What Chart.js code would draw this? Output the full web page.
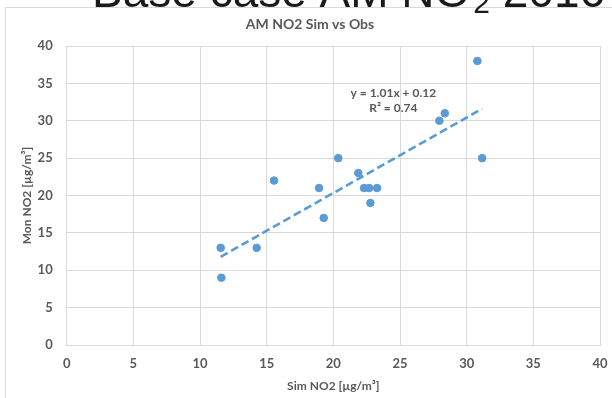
<!DOCTYPE html>
<html>
<head>
<meta charset="utf-8">
<script src="https://cdn.jsdelivr.net/npm/chart.js@4.4.0/dist/chart.umd.min.js"></script>
<style>
  html, body { margin: 0; padding: 0; background: #ffffff; overflow: hidden; }
  #wrap { position: relative; width: 612px; height: 398px; overflow: hidden; }
  #c { position: absolute; left: 0; top: 0; }
</style>
</head>
<body>
<div id="wrap">
  <canvas id="c" width="612" height="398"></canvas>
</div>
<script>
// ---- data ----
const simNO2 = [11.55, 11.6, 14.25, 15.55, 18.93, 19.28, 20.37, 21.87, 22.3, 22.68, 22.78, 23.28, 27.95, 28.36, 30.8, 31.16];
const monNO2 = [13, 9, 13, 22, 21, 17, 25, 23, 21, 21, 19, 21, 30, 31, 38, 25];
const trendX = [11.55, 31.16];
const trendY = [11.8, 31.6];
const axisTicks = [0, 5, 10, 15, 20, 25, 30, 35, 40];
const pageTitle = ["Base case AM NO", "2", " 2016"];
const chartTitle = "AM NO2 Sim vs Obs";
const xTitle = "Sim NO2 [\u00b5g/m\u00b3]";
const yTitle = "Mon NO2 [\u00b5g/m\u00b3]";
const trendLabel = ["y = 1.01x + 0.12", "R\u00b2 = 0.74"];
const trendLabelPos = { x: 24.5, y: [33.7, 31.7] };

const points = simNO2.map((x, i) => ({ x: x, y: monNO2[i] }));
const trend = trendX.map((x, i) => ({ x: x, y: trendY[i] }));

const FONT = "Lato, 'Open Sans', sans-serif";
const BIG = "'Liberation Sans', Arial, sans-serif";
const TXT = "#595959";

const overlay = {
  id: 'overlay',
  beforeDraw(chart) {
    const ctx = chart.ctx;
    ctx.save();
    ctx.strokeStyle = '#d9d9d9';
    ctx.lineWidth = 1;
    ctx.beginPath();
    ctx.moveTo(5.5, chart.height + 5);
    ctx.lineTo(5.5, 7.5);
    ctx.lineTo(chart.width + 5, 7.5);
    ctx.stroke();
    ctx.restore();
  },
  afterDraw(chart) {
    const ctx = chart.ctx;
    const xs = chart.scales.x, ys = chart.scales.y;
    ctx.save();
    ctx.fillStyle = TXT;
    ctx.textAlign = 'center';
    ctx.textBaseline = 'middle';
    ctx.font = "bold 14px " + FONT;
    ctx.fillText(chartTitle, 310, 24);
    ctx.font = "bold 12px " + FONT;
    const px = xs.getPixelForValue(trendLabelPos.x);
    ctx.fillText(trendLabel[0], px, ys.getPixelForValue(trendLabelPos.y[0]));
    ctx.fillText(trendLabel[1], px, ys.getPixelForValue(trendLabelPos.y[1]));
    // page heading, mostly cut off above the window
    ctx.fillStyle = '#1a1a1a';
    ctx.textAlign = 'left';
    ctx.textBaseline = 'alphabetic';
    let x = 92;
    ctx.font = "46px " + BIG;
    ctx.fillText(pageTitle[0], x, 7);
    x += ctx.measureText(pageTitle[0]).width + 3;
    ctx.font = "30px " + BIG;
    ctx.fillText(pageTitle[1], x, 13);
    x += ctx.measureText(pageTitle[1]).width;
    ctx.font = "46px " + BIG;
    ctx.fillText(pageTitle[2], x, 7);
    ctx.restore();
  }
};

function zeroPad(s) { s.paddingLeft = 0; s.paddingRight = 0; s.paddingTop = 0; s.paddingBottom = 0; }

new Chart(document.getElementById('c'), {
  type: 'scatter',
  data: {
    datasets: [
      {
        label: 'Obs',
        data: points,
        backgroundColor: '#5b9bd5',
        borderColor: '#5b9bd5',
        pointRadius: 3.8,
        pointHoverRadius: 3.8,
        order: 1
      },
      {
        label: 'Trend',
        type: 'line',
        data: trend,
        borderColor: '#5b9bd5',
        borderWidth: 2.6,
        borderDash: [8, 4],
        pointRadius: 0,
        fill: false,
        order: 2
      }
    ]
  },
  options: {
    responsive: false,
    animation: false,
    events: [],
    layout: { padding: { left: 5, right: 12, top: 46, bottom: 0 } },
    plugins: { legend: { display: false }, title: { display: false }, tooltip: { enabled: false } },
    scales: {
      x: {
        type: 'linear', min: 0, max: 40,
        afterBuildTicks(s) { s.ticks = axisTicks.map(v => ({ value: v })); },
        afterFit(s) { s.height = 53; zeroPad(s); },
        grid: { color: '#d9d9d9', lineWidth: 1, drawTicks: false },
        border: { color: '#d9d9d9' },
        ticks: { color: TXT, font: { family: FONT, size: 13, weight: 'bold' }, padding: 11, maxRotation: 0 },
        title: { display: true, text: xTitle, color: TXT, font: { family: FONT, size: 12, weight: 'bold' }, padding: { top: 0, bottom: 5 } }
      },
      y: {
        type: 'linear', min: 0, max: 40,
        afterBuildTicks(s) { s.ticks = axisTicks.map(v => ({ value: v })); },
        afterFit(s) { s.width = 61.7; zeroPad(s); },
        grid: { color: '#d9d9d9', lineWidth: 1, drawTicks: false },
        border: { color: '#d9d9d9' },
        ticks: { color: TXT, font: { family: FONT, size: 13, weight: 'bold' }, padding: 14 },
        title: { display: true, text: yTitle, color: TXT, font: { family: FONT, size: 12, weight: 'bold' }, padding: { top: 15, bottom: 0 } }
      }
    }
  },
  plugins: [overlay]
});
</script>
</body>
</html>
